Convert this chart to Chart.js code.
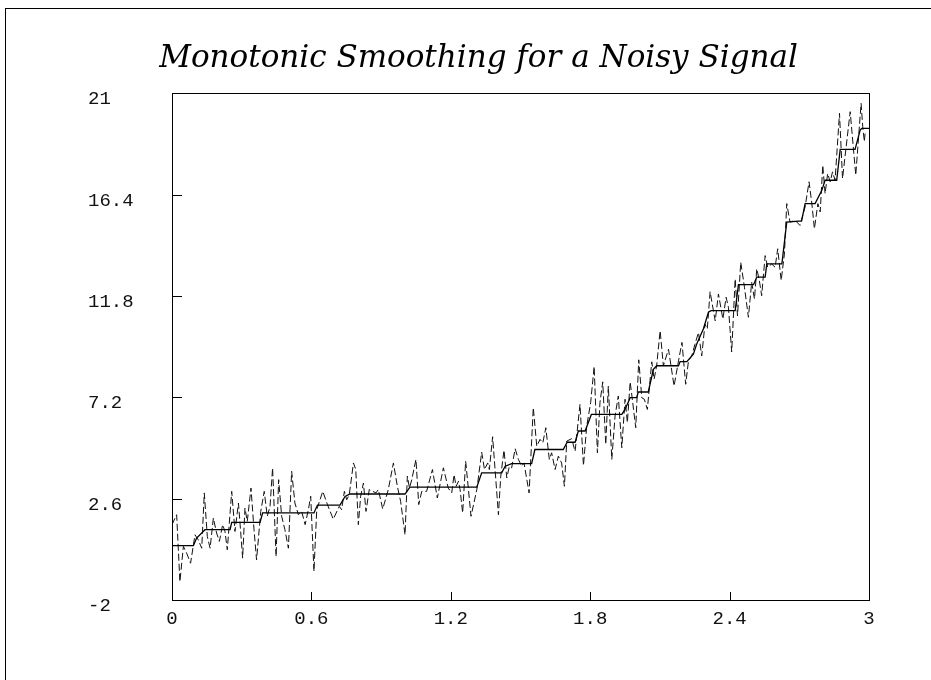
<!DOCTYPE html>
<html>
<head>
<meta charset="utf-8">
<title>Monotonic Smoothing for a Noisy Signal</title>
<script src="https://cdn.jsdelivr.net/npm/chart.js@4.4.1/dist/chart.umd.min.js"></script>
<style>
  html, body { margin: 0; padding: 0; background: #fff; }
  #wrap { width: 931px; height: 680px; }
</style>
</head>
<body>
<div id="wrap"><canvas id="chart" width="931" height="680"></canvas></div>
<script>
// Axis ticks
const xTicks = [0, 0.6, 1.2, 1.8, 2.4, 3];
const yTicks = [-2, 2.6, 7.2, 11.8, 16.4, 21];

// Noisy signal (dashed)
const noiseX = [
  0, 0.020, 0.034, 0.049, 0.063, 0.080, 0.099, 0.113, 0.128, 0.139, 0.152, 0.164, 0.178, 0.192, 0.204, 0.218,
  0.228, 0.238, 0.257, 0.271, 0.286, 0.296, 0.304, 0.314, 0.324, 0.340, 0.353, 0.364, 0.382, 0.397, 0.410, 0.422,
  0.433, 0.448, 0.459, 0.472, 0.486, 0.501, 0.515, 0.529, 0.544, 0.558, 0.573, 0.587, 0.597, 0.611,
  0.623, 0.649, 0.669, 0.694, 0.720, 0.730, 0.742, 0.752, 0.763, 0.781, 0.791, 0.802, 0.812, 0.824, 0.835, 0.849,
  0.864, 0.878, 0.888, 0.907, 0.931, 0.953, 0.970, 0.984, 1.003, 1.013, 1.022, 1.032, 1.050, 1.062, 1.075, 1.096,
  1.121, 1.142, 1.168, 1.189, 1.204, 1.214,
  1.223, 1.233, 1.240, 1.251, 1.264, 1.276, 1.287, 1.312, 1.333, 1.345, 1.359, 1.366, 1.380, 1.405, 1.415, 1.429,
  1.441, 1.452, 1.462, 1.477, 1.491, 1.505, 1.515, 1.537, 1.555, 1.570, 1.584, 1.596, 1.609, 1.624, 1.634, 1.649,
  1.663, 1.677, 1.689, 1.699, 1.720, 1.735, 1.756, 1.771, 1.785, 1.802, 1.817,
  1.831, 1.842, 1.854, 1.867, 1.878, 1.893, 1.907, 1.921, 1.936, 1.950, 1.960, 1.972, 1.983, 1.996, 2.009, 2.022,
  2.033, 2.046, 2.065, 2.075, 2.086, 2.101, 2.115, 2.137, 2.161, 2.180, 2.195, 2.211, 2.223, 2.237, 2.251, 2.266,
  2.280, 2.294, 2.304, 2.316, 2.338, 2.352, 2.371, 2.385, 2.395, 2.409, 2.424,
  2.434, 2.448, 2.464, 2.481, 2.495, 2.507, 2.517, 2.528, 2.538, 2.553, 2.564, 2.581, 2.596, 2.607, 2.622, 2.636,
  2.646, 2.660, 2.682, 2.703, 2.725, 2.742, 2.754, 2.765, 2.780, 2.790, 2.801, 2.811, 2.822, 2.833, 2.843, 2.854,
  2.873, 2.886, 2.919, 2.943, 2.966, 2.973, 2.980, 2.983
];
const noiseY = [
  1.42, 1.87, -1.17, 0.43, 0.13, -0.33, 0.96, 0.73, 0.35, 2.86, 0.88, 0.35, 1.72, 1.04, 0.66, 1.42,
  1.11, 0.28, 2.93, 1.11, 2.40, 1.04, -0.10, 2.17, 1.57, 3.08, 1.19, -0.18, 2.02, 2.93, 1.80, 2.25,
  4.00, -0.03, 3.46, 1.80, 1.19, 0.35, 3.84, 2.40, 1.87, 2.02, 1.42, 2.10, 2.71, -0.70,
  2.10, 2.93, 2.33, 1.67, 2.25, 2.10, 2.93, 2.55, 2.78, 4.22, 3.92, 1.42, 2.71, 3.31, 2.02, 3.01,
  2.93, 2.86, 3.01, 2.13, 3.01, 4.22, 3.16, 2.48, 0.96, 3.62, 3.08, 3.46, 4.38, 2.33, 2.93, 2.93,
  3.92, 2.63, 4.00, 3.08, 2.86, 3.69,
  3.16, 3.39, 3.01, 1.95, 4.30, 3.01, 1.80, 3.01, 4.71, 3.92, 4.22, 3.92, 5.41, 1.87, 3.62, 4.80,
  3.54, 4.07, 4.00, 4.86, 4.38, 4.07, 4.22, 2.86, 6.73, 4.98, 5.29, 5.13, 5.82, 4.38, 4.68, 3.92,
  4.53, 4.22, 3.16, 5.21, 5.32, 4.75, 6.88, 4.10, 5.89, 6.96, 8.60,
  4.68, 6.96, 7.90, 5.06, 7.71, 4.38, 6.35, 7.26, 4.91, 7.11, 6.05, 7.90, 6.96, 5.82, 8.90, 7.18,
  7.11, 6.65, 8.81, 8.02, 8.63, 10.22, 8.63, 9.38, 7.71, 8.85, 9.69, 7.79, 8.85, 9.08, 9.61, 10.14,
  9.08, 10.52, 10.30, 11.99, 10.67, 11.89, 10.75, 11.74, 11.28, 9.26, 12.57,
  10.90, 13.33, 12.19, 10.83, 12.42, 11.66, 13.03, 12.50, 11.81, 13.63, 13.10, 13.25, 13.10, 13.94, 12.50, 13.71,
  15.99, 15.15, 15.23, 15.00, 15.84, 16.98, 15.99, 14.85, 15.99, 15.61, 17.73, 16.44, 17.35, 16.98, 17.43, 17.05,
  20.09, 17.13, 20.16, 17.28, 20.54, 19.48, 18.80, 19.17
];

// Monotonic (step) fit, solid line
const smoothX = [
  0, 0.092, 0.106, 0.142, 0.250, 0.257, 0.379, 0.390, 0.611, 0.626, 0.723, 0.745, 0.766, 1.003, 1.024, 1.312,
  1.333, 1.419, 1.434, 1.462, 1.548, 1.562, 1.684, 1.701, 1.735, 1.749, 1.778, 1.805, 1.936, 1.950, 1.972, 2.000,
  2.007, 2.050, 2.072, 2.086, 2.180, 2.187, 2.216, 2.244, 2.258, 2.287, 2.309, 2.320, 2.424, 2.438, 2.503, 2.517,
  2.553, 2.560, 2.625, 2.646, 2.710, 2.725, 2.768, 2.797, 2.811, 2.861, 2.876, 2.940, 2.962, 2.969, 3.0
];
const smoothY = [
  0.47, 0.47, 0.81, 1.19, 1.19, 1.52, 1.52, 1.95, 1.95, 2.31, 2.31, 2.70, 2.81, 2.81, 3.12, 3.12,
  3.77, 3.77, 4.07, 4.19, 4.19, 4.83, 4.83, 5.16, 5.16, 5.67, 5.67, 6.42, 6.42, 6.65, 7.18, 7.18,
  7.44, 7.44, 8.47, 8.63, 8.63, 8.82, 8.82, 9.16, 9.61, 10.30, 11.06, 11.13, 11.13, 12.31, 12.31, 12.65,
  12.65, 13.25, 13.25, 15.15, 15.20, 15.99, 15.99, 16.59, 17.05, 17.05, 18.45, 18.45, 19.33, 19.40, 19.40
];

function toPoints(xs, ys) {
  const pts = [];
  for (let i = 0; i < Math.min(xs.length, ys.length); i++) {
    pts.push({ x: xs[i], y: ys[i] });
  }
  return pts;
}

// white page, outer frame, plot box and inward ticks
const framePlugin = {
  id: 'frame',
  beforeDraw(chart) {
    const ctx = chart.ctx;
    ctx.save();
    ctx.fillStyle = '#fff';
    ctx.fillRect(0, 0, chart.width, chart.height);
    ctx.restore();
  },
  afterDraw(chart) {
    const { ctx, chartArea: a, scales } = chart;
    ctx.save();
    ctx.strokeStyle = '#000';
    ctx.lineWidth = 1;
    ctx.strokeRect(5.5, 8.5, chart.width + 20, chart.height + 20);
    ctx.strokeRect(Math.round(a.left) + 0.5, Math.round(a.top) + 0.5,
                   Math.round(a.right - a.left), Math.round(a.bottom - a.top));
    ctx.beginPath();
    yTicks.forEach(v => {
      const y = Math.round(scales.y.getPixelForValue(v)) + 0.5;
      ctx.moveTo(a.left, y);
      ctx.lineTo(a.left + 10, y);
    });
    xTicks.forEach(v => {
      const x = Math.round(scales.x.getPixelForValue(v)) + 0.5;
      ctx.moveTo(x, a.bottom);
      ctx.lineTo(x, a.bottom - 8);
    });
    ctx.stroke();
    ctx.restore();
  }
};

const tickFont = { family: '"Liberation Mono", "DejaVu Sans Mono", monospace', size: 19 };

new Chart(document.getElementById('chart'), {
  type: 'scatter',
  data: {
    datasets: [
      {
        label: 'Monotonic fit',
        data: toPoints(smoothX, smoothY),
        showLine: true,
        borderColor: '#000',
        borderWidth: 1.3,
        pointRadius: 0,
        tension: 0
      },
      {
        label: 'Noisy signal',
        data: toPoints(noiseX, noiseY),
        showLine: true,
        borderColor: '#111',
        borderWidth: 1,
        borderDash: [7, 3],
        pointRadius: 0,
        tension: 0
      }
    ]
  },
  options: {
    responsive: false,
    animation: false,
    devicePixelRatio: 1,
    layout: { padding: { left: 88, right: 62, top: 0, bottom: 0 } },
    plugins: {
      legend: { display: false },
      tooltip: { enabled: false },
      title: {
        display: true,
        text: 'Monotonic Smoothing for a Noisy Signal',
        color: '#000',
        font: { family: '"DejaVu Serif", "Liberation Serif", serif', style: 'italic', weight: 'normal', size: 31, lineHeight: 1.2 },
        padding: { top: 40, bottom: 16 }
      }
    },
    scales: {
      x: {
        type: 'linear',
        min: 0,
        max: 3,
        grid: { display: false },
        border: { display: false },
        afterBuildTicks: s => { s.ticks = xTicks.map(v => ({ value: v })); },
        afterFit: s => { s.height = 80; },
        ticks: {
          color: '#111',
          font: tickFont,
          padding: 0,
          maxRotation: 0,
          autoSkip: false,
          callback: v => String(v)
        }
      },
      y: {
        type: 'linear',
        min: -2,
        max: 21,
        grid: { display: false },
        border: { display: false },
        afterBuildTicks: s => { s.ticks = yTicks.map(v => ({ value: v })); },
        afterFit: s => { s.width = 84; },
        ticks: {
          color: '#111',
          font: tickFont,
          crossAlign: 'far',
          labelOffset: 6,
          autoSkip: false,
          callback: v => String(v)
        }
      }
    }
  },
  plugins: [framePlugin]
});
</script>
</body>
</html>
